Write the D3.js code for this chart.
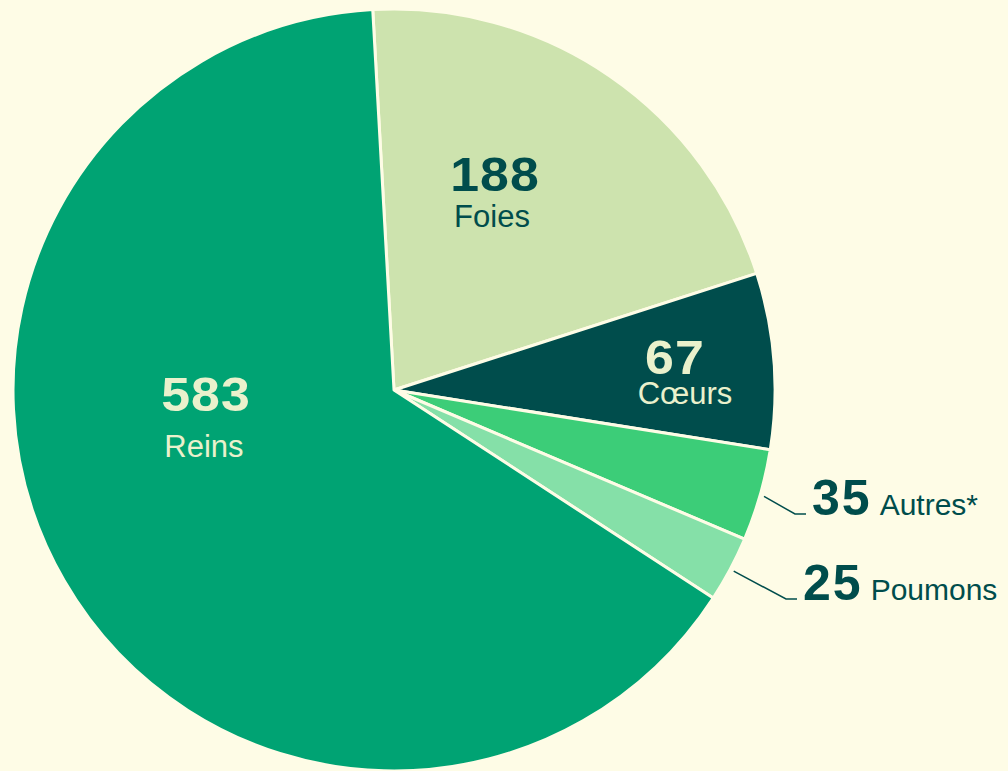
<!DOCTYPE html>
<html>
<head>
<meta charset="utf-8">
<script src="https://cdn.jsdelivr.net/npm/d3@7"></script>
<style>
  html, body { margin: 0; padding: 0; background: #fefce6; }
  svg { display: block; font-family: "Liberation Sans", Arial, sans-serif; }
</style>
</head>
<body>
<div class="chart-container"></div>
<script>
const width = 1008;
const height = 771;

// data, in clockwise order starting near 12 o'clock
const organs = ["Foies", "Cœurs", "Autres*", "Poumons", "Reins"];
const counts = [188, 67, 35, 25, 583];
const colors = ["#cde3ae", "#004d4c", "#3ccd78", "#85e0a8", "#00a373"];

const bgColor = "#fefce6";
const darkText = "#004d4c";
const lightText = "#eaf1cc";

const cx = 394;
const cy = 390;
const radius = 381;
const startAngle = -3.2 * Math.PI / 180;

// where the label sits for each slice (inside labels)
const insideLabels = {
    "Reins":  { num: [206, 411], name: [204, 457], color: lightText },
    "Foies":  { num: [495, 191], name: [492, 227], color: darkText },
    "Cœurs":  { num: [675, 374], name: [685, 404], color: lightText }
};
// outside labels with a leader line: y of the line and end of the line
const outsideLabels = {
    "Autres*": { x: 806, y: 514 },
    "Poumons": { x: 797, y: 599 }
};

const svg = d3.select(".chart-container").append("svg")
    .attr("width", width)
    .attr("height", height);

svg.append("rect")
    .attr("width", width)
    .attr("height", height)
    .attr("fill", bgColor);

const g = svg.append("g")
    .attr("transform", `translate(${cx},${cy})`);

const data = organs.map((name, i) => ({ name: name, value: counts[i], color: colors[i] }));

const pie = d3.pie()
    .sort(null)
    .value(d => d.value)
    .startAngle(startAngle)
    .endAngle(startAngle + 2 * Math.PI);

const arc = d3.arc()
    .innerRadius(0)
    .outerRadius(radius);

const arcs = pie(data);

g.selectAll("path.slice")
    .data(arcs)
    .enter()
    .append("path")
    .attr("class", "slice")
    .attr("d", arc)
    .attr("fill", d => d.data.color)
    .attr("stroke", bgColor)
    .attr("stroke-width", 3)
    .attr("stroke-linejoin", "round");

// inside labels
arcs.forEach(d => {
    const lab = insideLabels[d.data.name];
    if (!lab) return;
    svg.append("text")
        .attr("transform", `translate(${lab.num[0]},${lab.num[1]}) scale(1.08,1)`)
        .attr("text-anchor", "middle")
        .attr("font-size", "48px")
        .attr("font-weight", "bold")
        .attr("letter-spacing", "1px")
        .attr("fill", lab.color)
        .text(d.data.value);
    svg.append("text")
        .attr("x", lab.name[0])
        .attr("y", lab.name[1])
        .attr("text-anchor", "middle")
        .attr("font-size", "31px")
        .attr("fill", lab.color)
        .text(d.data.name);
});

// outside labels with leader lines
arcs.forEach(d => {
    const lab = outsideLabels[d.data.name];
    if (!lab) return;
    const mid = (d.startAngle + d.endAngle) / 2;
    const r0 = radius + 4;
    const x0 = cx + r0 * Math.sin(mid);
    const y0 = cy - r0 * Math.cos(mid);
    svg.append("polyline")
        .attr("points", [[x0, y0], [lab.x - 11, lab.y], [lab.x, lab.y]].map(p => p.join(",")).join(" "))
        .attr("fill", "none")
        .attr("stroke", darkText)
        .attr("stroke-width", 1.5);
    const t = svg.append("text")
        .attr("x", lab.x + 6)
        .attr("y", lab.y + 1)
        .attr("fill", darkText);
    t.append("tspan")
        .attr("font-size", "50px")
        .attr("font-weight", "bold")
        .attr("letter-spacing", "2px")
        .text(d.data.value);
    t.append("tspan")
        .attr("dx", 8)
        .attr("font-size", "30px")
        .text(d.data.name);
});
</script>
</body>
</html>
